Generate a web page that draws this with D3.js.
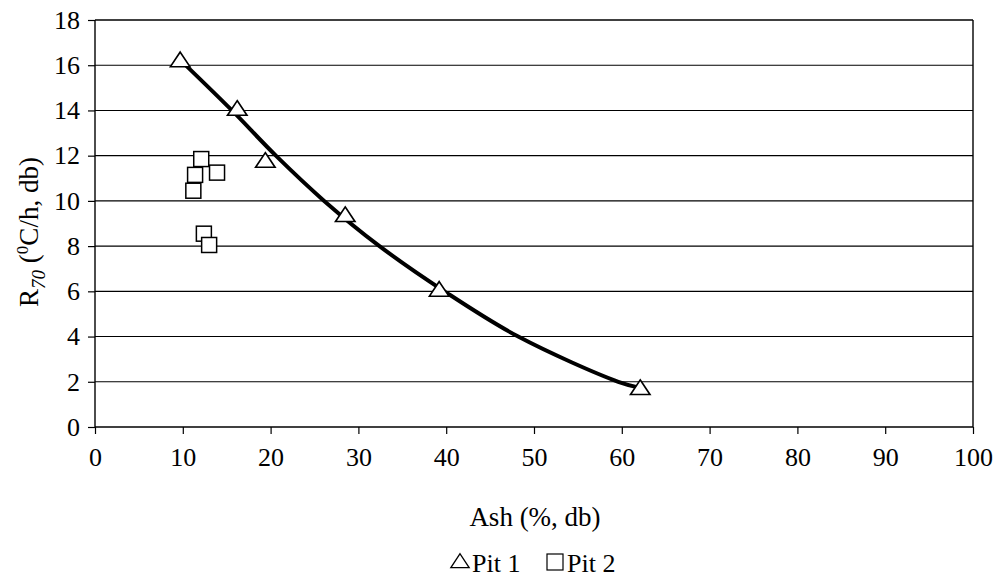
<!DOCTYPE html>
<html>
<head>
<meta charset="utf-8">
<script src="https://cdn.jsdelivr.net/npm/d3@7"></script>
<style>
  body { margin: 0; background: #fff; }
</style>
</head>
<body>
<div id="chart"></div>
<script>
// valores
const pit1Ash = [9.7, 16.2, 19.4, 28.5, 39.2, 62.1];
const pit1R70 = [16.15, 14.0, 11.7, 9.3, 6.0, 1.65];

const pit2Ash = [12.1, 11.4, 13.9, 11.2, 12.4, 13.0];
const pit2R70 = [11.85, 11.15, 11.25, 10.45, 8.55, 8.05];

// linha de tendência
const trendAsh = [10.2, 15.6, 20.6, 26.1, 32.4, 39.8, 48.2, 59.6, 62.2];
const trendR70 = [16.05, 14.0, 12.0, 10.0, 8.0, 6.0, 4.0, 2.0, 1.72];

const xTicks = [0, 10, 20, 30, 40, 50, 60, 70, 80, 90, 100];
const yTicks = [0, 2, 4, 6, 8, 10, 12, 14, 16, 18];

const FONT = "'Liberation Serif', 'DejaVu Serif', 'Times New Roman', Times, serif";

const config = { div: "#chart", width: 878, height: 407, left: 95, top: 20 };

const svg = d3.select(config.div)
  .append("svg")
  .attr("width", 1005)
  .attr("height", 577)
  .attr("font-family", FONT);

const g = svg.append("g")
  .attr("transform", `translate(${config.left},${config.top})`);

const xScale = d3.scaleLinear().domain([0, 100]).range([0, config.width]);
const yScale = d3.scaleLinear().domain([0, 18]).range([config.height, 0]);

// grade horizontal
g.append("g")
  .selectAll("line")
  .data(yTicks.filter(d => d > 0))
  .join("line")
  .attr("x1", 0)
  .attr("x2", config.width)
  .attr("y1", d => yScale(d))
  .attr("y2", d => yScale(d))
  .attr("stroke", "#000")
  .attr("stroke-width", d => d === 18 ? 1.6 : 1.1);

// borda direita
g.append("line")
  .attr("x1", config.width).attr("x2", config.width)
  .attr("y1", 0).attr("y2", config.height)
  .attr("stroke", "#000").attr("stroke-width", 1.4);

// eixos
const xAxis = d3.axisBottom(xScale).tickValues(xTicks).tickSize(7).tickPadding(14).tickFormat(d3.format("d"));
const yAxis = d3.axisLeft(yScale).tickValues(yTicks).tickSize(7).tickPadding(8).tickFormat(d3.format("d"));

const gx = g.append("g")
  .attr("transform", `translate(0,${config.height})`)
  .call(xAxis);
const gy = g.append("g").call(yAxis);

[gx, gy].forEach(a => {
  a.attr("font-family", FONT);
  a.select(".domain").attr("stroke", "#000").attr("stroke-width", 1.4);
  a.selectAll(".tick line").attr("stroke", "#000").attr("stroke-width", 1.2);
  a.selectAll(".tick text")
    .style("font-family", FONT)
    .style("font-size", "26px")
    .attr("fill", "#000");
});
gx.select(".domain").attr("d", `M0,0H${config.width}`);
gy.select(".domain").attr("d", `M0,${config.height}V0`);

// linha de tendência
const trend = trendAsh.map((x, i) => [x, trendR70[i]]);
g.append("path")
  .datum(trend)
  .attr("fill", "none")
  .attr("stroke", "#000")
  .attr("stroke-width", 4)
  .attr("d", d3.line()
    .x(d => xScale(d[0]))
    .y(d => yScale(d[1]))
    .curve(d3.curveCatmullRom));

// Pit 1 - triângulos
const tri = d3.symbol().type(d3.symbolTriangle).size(125);
g.append("g")
  .selectAll("path")
  .data(pit1Ash.map((x, i) => [x, pit1R70[i]]))
  .join("path")
  .attr("d", tri)
  .attr("transform", d => `translate(${xScale(d[0])},${yScale(d[1])}) scale(1.15,1)`)
  .attr("fill", "#fff")
  .attr("stroke", "#000")
  .attr("stroke-width", 1.5);

// Pit 2 - quadrados
const sq = 15;
g.append("g")
  .selectAll("rect")
  .data(pit2Ash.map((x, i) => [x, pit2R70[i]]))
  .join("rect")
  .attr("x", d => xScale(d[0]) - sq / 2)
  .attr("y", d => yScale(d[1]) - sq / 2)
  .attr("width", sq)
  .attr("height", sq)
  .attr("fill", "#fff")
  .attr("stroke", "#000")
  .attr("stroke-width", 1.5);

// título eixo x
svg.append("text")
  .attr("x", 535)
  .attr("y", 526)
  .attr("text-anchor", "middle")
  .style("font-family", FONT)
  .style("font-size", "27px")
  .text("Ash (%, db)");

// título eixo y
const yLabel = svg.append("text")
  .attr("transform", "translate(38,232) rotate(-90)")
  .attr("text-anchor", "middle")
  .style("font-family", FONT)
  .style("font-size", "27px");
yLabel.append("tspan").text("R");
yLabel.append("tspan").attr("dy", 7).style("font-size", "19px").style("font-style", "italic").text("70");
yLabel.append("tspan").attr("dy", -7).text(" (");
yLabel.append("tspan").attr("dy", -10).style("font-size", "17px").text("0");
yLabel.append("tspan").attr("dy", 10).text("C/h, db)");

// legenda
const leg = svg.append("g").attr("transform", "translate(450,572)").style("font-family", FONT);
leg.append("path")
  .attr("d", d3.symbol().type(d3.symbolTriangle).size(110))
  .attr("transform", "translate(10,-9) scale(1.15,1)")
  .attr("fill", "#fff").attr("stroke", "#000").attr("stroke-width", 1.2);
leg.append("text").attr("x", 22).attr("y", 0).style("font-size", "26px").text("Pit 1");
leg.append("rect")
  .attr("x", 97).attr("y", -18).attr("width", 16).attr("height", 16)
  .attr("fill", "#fff").attr("stroke", "#000").attr("stroke-width", 1.2);
leg.append("text").attr("x", 117).attr("y", 0).style("font-size", "26px").text("Pit 2");
</script>
</body>
</html>
